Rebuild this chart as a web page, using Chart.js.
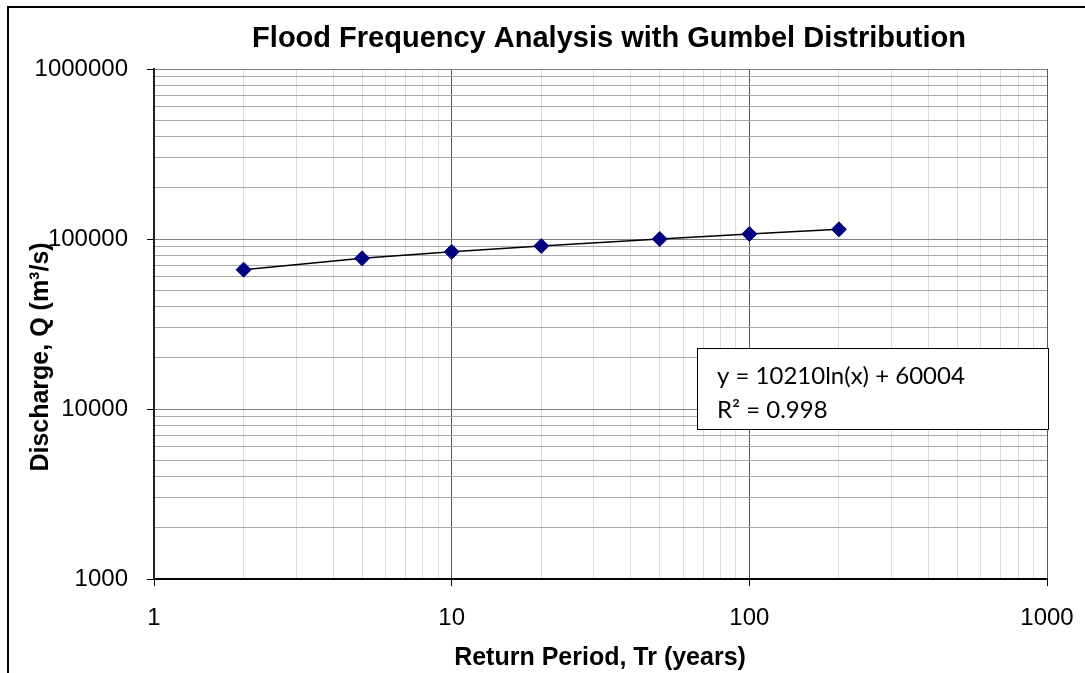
<!DOCTYPE html>
<html><head><meta charset="utf-8">
<script src="https://cdn.jsdelivr.net/npm/chart.js@4.4.1/dist/chart.umd.min.js"></script>
<style>html,body{margin:0;padding:0;background:#fff;overflow:hidden}#wrap{width:1085px;height:673px}</style>
</head><body><div id="wrap"><canvas id="c" width="1085" height="673"></canvas></div>
<script>
const returnPeriods = [2, 5, 10, 20, 50, 100, 200];
const discharge = [66000, 77000, 84000, 91000, 100000, 107000, 114000];
const xTickLabels = [1, 10, 100, 1000];
const yTickLabels = [1000, 10000, 100000, 1000000];
const minorMultipliers = [2, 3, 4, 5, 6, 7, 8, 9];
const titleText = 'Flood Frequency Analysis with Gumbel Distribution';
const xTitleText = 'Return Period, Tr (years)';
const yTitleText = 'Discharge, Q (m³/s)';
const trendLabel = ['y = 10210ln(x) + 60004', 'R² = 0.998'];

const FONT = '"Liberation Sans", Arial, sans-serif';

function buildTicks(majors) {
  const out = [];
  majors.forEach((m, i) => {
    out.push({ value: m, major: true });
    if (i < majors.length - 1) minorMultipliers.forEach(k => out.push({ value: m * k, major: false }));
  });
  return out;
}
const isMajor = v => Math.abs(Math.log10(v) - Math.round(Math.log10(v))) < 1e-9;

const decor = {
  id: 'decor',
  beforeDraw(chart) {
    const c = chart.ctx;
    c.save();
    c.fillStyle = '#fff';
    c.fillRect(0, 0, chart.width, chart.height);
    c.strokeStyle = '#000';
    c.lineWidth = 2;
    c.beginPath();
    c.moveTo(8, chart.height);
    c.lineTo(8, 7);
    c.lineTo(chart.width, 7);
    c.stroke();
    c.restore();
  },
  afterDraw(chart) {
    const c = chart.ctx;
    c.save();
    c.fillStyle = '#000';
    c.font = 'bold 29px ' + FONT;
    c.textAlign = 'center';
    c.textBaseline = 'alphabetic';
    c.fillText(titleText, 609, 47);
    c.font = 'bold 25px ' + FONT;
    c.fillText(xTitleText, 600, 665);
    c.save();
    c.translate(48, 357);
    c.rotate(-Math.PI / 2);
    c.fillText(yTitleText, 0, 0);
    c.restore();
    // trendline label box
    c.fillStyle = '#fff';
    c.fillRect(697, 348, 352, 82);
    c.strokeStyle = '#000';
    c.lineWidth = 1;
    c.strokeRect(697.5, 348.5, 351, 81);
    c.fillStyle = '#000';
    c.textAlign = 'left';
    c.font = '24px Lato, "Open Sans", sans-serif';
    c.fillText(trendLabel[0], 717, 384);
    c.fillText(trendLabel[1], 717, 418);
    c.restore();
  }
};

const tickFont = { family: FONT, size: 24 };

new Chart(document.getElementById('c'), {
  type: 'scatter',
  data: {
    datasets: [{
      data: returnPeriods.map((x, i) => ({ x: x, y: discharge[i] })),
      showLine: true,
      borderColor: '#000',
      borderWidth: 1.5,
      pointStyle: 'rectRot',
      pointRadius: 7.5,
      pointHoverRadius: 7.5,
      pointBackgroundColor: '#000080',
      pointBorderColor: '#000080',
      pointBorderWidth: 1
    }]
  },
  options: {
    responsive: false,
    devicePixelRatio: 1,
    animation: false,
    layout: { padding: { left: 8, top: 69, right: 38, bottom: 0 } },
    plugins: { legend: { display: false }, tooltip: { enabled: false }, title: { display: false } },
    scales: {
      x: {
        type: 'logarithmic', min: 1, max: 1000,
        afterFit(s) { s.height = 94; s.paddingLeft = 0; s.paddingRight = 0; },
        afterBuildTicks(s) { s.ticks = buildTicks(xTickLabels); },
        ticks: {
          autoSkip: false, maxRotation: 0, minRotation: 0, padding: 18, color: '#000', font: tickFont,
          callback: v => xTickLabels.includes(v) ? String(v) : ''
        },
        grid: {
          color: ctx => (ctx.tick && isMajor(ctx.tick.value)) ? '#5a5a5a' : '#dcdcdc',
          lineWidth: 1, tickLength: 7,
          tickColor: ctx => (ctx.tick && isMajor(ctx.tick.value)) ? '#000' : 'rgba(0,0,0,0)'
        },
        border: { color: '#000', width: 2 }
      },
      y: {
        type: 'logarithmic', min: 1000, max: 1000000,
        afterFit(s) { s.width = 146; s.paddingTop = 0; s.paddingBottom = 0; },
        afterBuildTicks(s) { s.ticks = buildTicks(yTickLabels); },
        ticks: {
          autoSkip: false, padding: 19, color: '#000', font: tickFont,
          callback: v => yTickLabels.includes(v) ? String(v) : ''
        },
        grid: {
          color: ctx => (ctx.tick && isMajor(ctx.tick.value)) ? '#808080' : '#a8a8a8',
          lineWidth: 1, tickLength: 7,
          tickColor: ctx => (ctx.tick && isMajor(ctx.tick.value)) ? '#000' : 'rgba(0,0,0,0)'
        },
        border: { color: '#222', width: 2 }
      }
    }
  },
  plugins: [decor]
});
</script></body></html>
